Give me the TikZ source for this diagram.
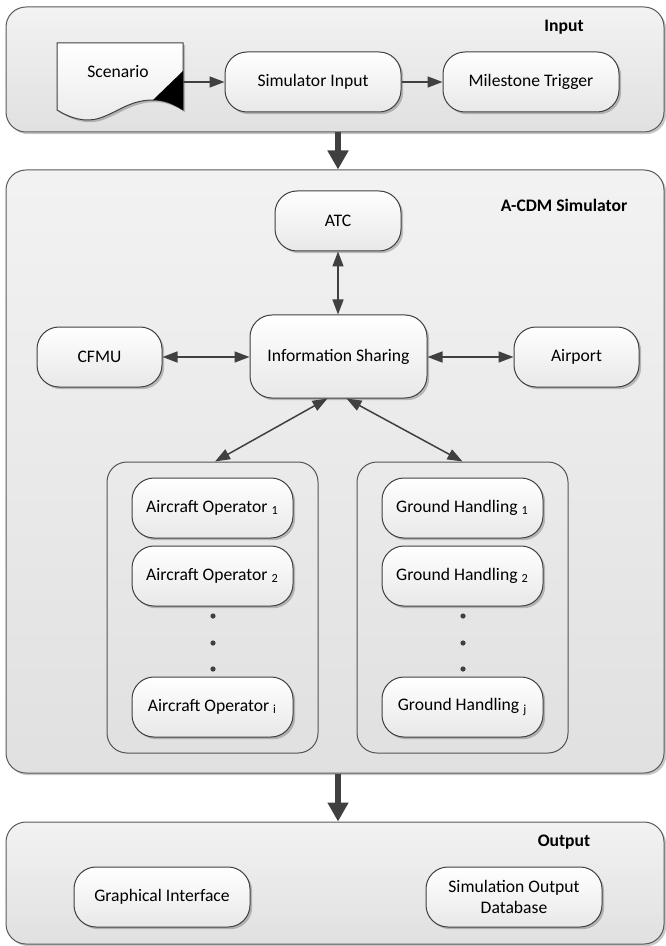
\documentclass[tikz,border=0pt]{standalone}
\usepackage{fontspec}
\setmainfont{Carlito}
\usetikzlibrary{arrows.meta,shadows,calc}
\definecolor{edgec}{HTML}{404040}
\definecolor{panelline}{HTML}{5A5A5A}
\tikzset{
  basefont/.style={font=\fontsize{8.8}{10.6}\selectfont},
  shad/.style={drop shadow={shadow xshift=1.1pt,shadow yshift=-1.1pt,opacity=0.22,fill=black}},
  panel/.style={draw=panelline, line width=0.5pt, rounded corners=10pt,
    top color=white!95!black, bottom color=white!88!black, shad,
    minimum width=329pt, inner sep=0pt},
  box/.style={draw=edgec, line width=0.5pt, rounded corners=11pt,
    top color=white, bottom color=white!91!black, shad,
    inner sep=0pt, align=center, basefont},
  grp/.style={draw=edgec!90, line width=0.5pt, rounded corners=10pt,
    top color=white!92!black, bottom color=white!88!black,
    minimum width=105.5pt, minimum height=145.5pt, inner sep=0pt},
  lbl/.style={basefont, font=\fontsize{8.8}{10.6}\selectfont\bfseries},
  txt/.style={basefont},
  dbl/.style={draw=edgec, line width=0.75pt,
    {Triangle[length=7.5pt,width=5.5pt]}-{Triangle[length=7.5pt,width=5.5pt]}},
  sgl/.style={draw=edgec, line width=0.75pt, -{Triangle[length=7.5pt,width=5.5pt]}},
  bigarr/.style={draw=edgec, line width=3pt, -{Triangle[length=9.5pt,width=10pt]}},
  dotc/.style={circle, fill=edgec, inner sep=0pt, minimum size=2.6pt}
}
\begin{document}
\begin{tikzpicture}[x=0.5pt,y=-0.5pt]
\useasboundingbox (0,0) rectangle (665,946);

% panels
\node[panel, minimum height=62.5pt] (inp) at (335,69.5) {};
\node[panel, minimum height=301.5pt] (acdm) at (335,471.5) {};
\node[panel, minimum height=61pt] (outp) at (335,883) {};

\node[lbl] (inplbl) at (564,27) {Input};
\node[lbl] (acdmlbl) at (564,205) {A-CDM Simulator};
\node[lbl] (outlbl) at (564,842) {Output};

% scenario document
\draw[draw=edgec, line width=0.5pt, top color=white, bottom color=white!92!black, shad]
  (57,43) -- (183,43) -- (183,110)
  .. controls (172,103) and (163,100) .. (153,100)
  .. controls (130,100) and (118,112) .. (100,118)
  .. controls (85,123) and (70,118) .. (57,110) -- cycle;
\fill[black] (153,100) -- (183,71) -- (183,110)
  .. controls (172,103) and (163,100) .. (153,100) -- cycle;
\node[inner sep=0pt, minimum width=63pt, minimum height=33.5pt] (scen) at (120,76.5) {};
\node[txt] (scenlbl) at (118,72) {Scenario};

% input row
\node[box, minimum width=88pt, minimum height=30pt] (simin) at (313,82) {Simulator Input};
\node[box, minimum width=88pt, minimum height=30pt] (mile) at (531,82) {Milestone Trigger};
\draw[sgl] (scen.east |- simin) -- (simin.west);
\draw[sgl] (simin) -- (mile);

% A-CDM
\node[box, minimum width=63pt, minimum height=30pt] (atc) at (338,221) {ATC};
\node[box, minimum width=88.5pt, minimum height=41.5pt] (is) at (338.5,356.5) {Information Sharing};
\node[box, minimum width=62.5pt, minimum height=30pt] (cfmu) at (99.5,357) {CFMU};
\node[box, minimum width=62.5pt, minimum height=30pt] (apt) at (576.5,357) {Airport};

\draw[dbl] (atc.south) -- (atc.south |- is.north);
\draw[dbl] (cfmu.east) -- (is.west |- cfmu.east);
\draw[dbl] (is.east |- apt.west) -- (apt.west);

% groups
\node[grp] (aog) at (212.5,607.5) {};
\node[grp] (ghg) at (462.5,607.5) {};

\coordinate (isl) at ($(is.south)+(-11,0)$);
\coordinate (isr) at ($(is.south)+(8,0)$);
\draw[dbl] (isl) -- ($(aog.north)+(2.5,0)$);
\draw[dbl] (isr) -- (ghg.north);

\node[box, minimum width=80.5pt, minimum height=30pt] (ao1) at (212.5,508) {Aircraft Operator \textsubscript{1}};
\node[box, minimum width=80.5pt, minimum height=30pt] (ao2) at (212.5,576) {Aircraft Operator \textsubscript{2}};
\node[box, minimum width=80.5pt, minimum height=30pt] (aoi) at (212.5,707) {Aircraft Operator \textsubscript{i}};
\node[dotc] (aod1) at (213,616) {};
\node[dotc] (aod2) at (213,643) {};
\node[dotc] (aod3) at (213,669) {};

\node[box, minimum width=80.5pt, minimum height=30pt] (gh1) at (462.5,508) {Ground Handling \textsubscript{1}};
\node[box, minimum width=80.5pt, minimum height=30pt] (gh2) at (462.5,576) {Ground Handling \textsubscript{2}};
\node[box, minimum width=80.5pt, minimum height=30pt] (ghj) at (462.5,707) {Ground Handling \textsubscript{j}};
\node[dotc] (ghd1) at (463,616) {};
\node[dotc] (ghd2) at (463,643) {};
\node[dotc] (ghd3) at (463,669) {};

% output
\node[box, minimum width=88pt, minimum height=30pt] (gi) at (162,897) {Graphical Interface};
\node[box, minimum width=88pt, minimum height=30pt] (sod) at (514,897) {Simulation Output\\Database};

% big arrows
\draw[bigarr] (inp.south -| atc) -- (acdm.north -| atc);
\draw[bigarr] (acdm.south -| atc) -- (outp.north -| atc);
\end{tikzpicture}
\end{document}
